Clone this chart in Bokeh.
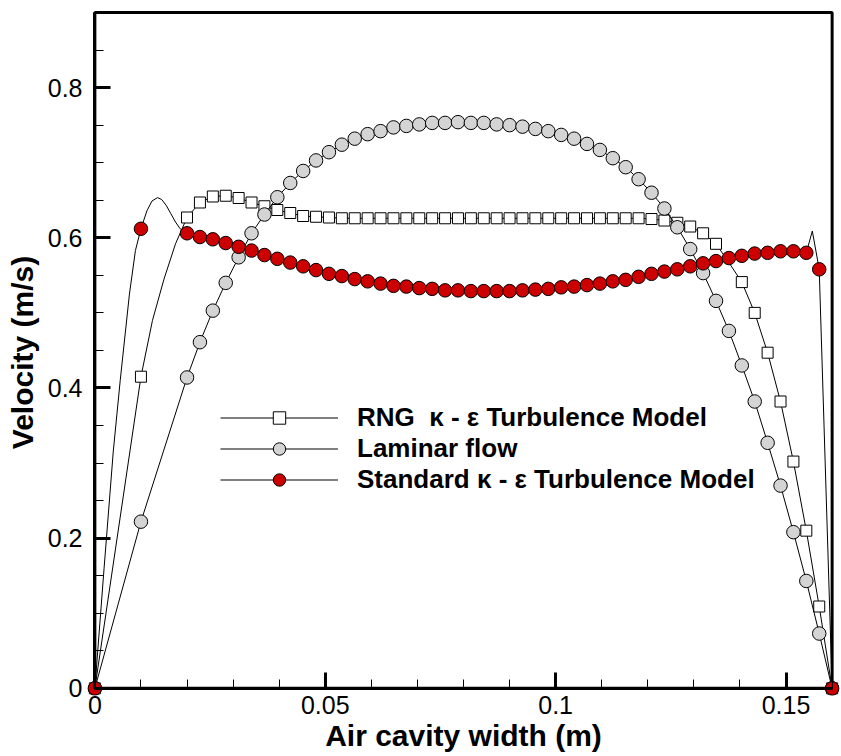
import numpy as np
from bokeh.plotting import figure
from bokeh.models import (Range1d, FixedTicker, NumeralTickFormatter, Legend, LegendItem,
                          BoxAnnotation, LinearAxis)
from bokeh.embed import file_html
from bokeh.resources import INLINE

# Positions across the cavity (m) where the profiles are sampled
x_nodes = [0.0, 0.01,
           0.0200, 0.0228, 0.0256, 0.0284, 0.0312, 0.0340, 0.0368, 0.0396, 0.0424, 0.0452,
           0.0480, 0.0508, 0.0536, 0.0564, 0.0592, 0.0620, 0.0648, 0.0676, 0.0704, 0.0732,
           0.0760, 0.0788, 0.0816, 0.0844, 0.0872, 0.0900, 0.0928, 0.0956, 0.0984, 0.1012,
           0.1040, 0.1068, 0.1096, 0.1124, 0.1152, 0.1180, 0.1208, 0.1236, 0.1264, 0.1292,
           0.1320, 0.1348, 0.1376, 0.1404, 0.1432, 0.1460, 0.1488, 0.1516, 0.1544, 0.1572,
           0.16]

# Velocity (m/s), RNG k-epsilon model
rng_v = [0.0, 0.415,
         0.627, 0.647, 0.655, 0.656, 0.653, 0.647, 0.642, 0.637, 0.633, 0.629,
         0.628, 0.627, 0.626, 0.626, 0.626, 0.626, 0.626, 0.626, 0.626, 0.626,
         0.626, 0.626, 0.626, 0.626, 0.626, 0.626, 0.626, 0.626, 0.626, 0.626,
         0.626, 0.626, 0.626, 0.626, 0.626, 0.626, 0.625, 0.623, 0.620, 0.615,
         0.606, 0.592, 0.567, 0.541, 0.500, 0.447, 0.382, 0.302, 0.210, 0.109,
         0.0]

# Velocity (m/s), laminar flow
lam_v = [0.0, 0.222,
         0.414, 0.461, 0.503, 0.540, 0.574, 0.606, 0.631, 0.654, 0.673, 0.689,
         0.703, 0.714, 0.724, 0.732, 0.738, 0.742, 0.747, 0.749, 0.751, 0.753,
         0.753, 0.754, 0.753, 0.753, 0.751, 0.750, 0.748, 0.745, 0.742, 0.737,
         0.732, 0.725, 0.717, 0.706, 0.694, 0.678, 0.660, 0.639, 0.614, 0.585,
         0.553, 0.516, 0.476, 0.430, 0.382, 0.327, 0.270, 0.208, 0.143, 0.073,
         0.0]

# Velocity (m/s), standard k-epsilon model
std_v = [0.0, 0.612,
         0.606, 0.601, 0.598, 0.593, 0.588, 0.583, 0.577, 0.572, 0.567, 0.562,
         0.557, 0.552, 0.549, 0.545, 0.542, 0.539, 0.536, 0.535, 0.533, 0.532,
         0.530, 0.530, 0.529, 0.529, 0.529, 0.529, 0.530, 0.531, 0.532, 0.534,
         0.535, 0.537, 0.539, 0.542, 0.544, 0.548, 0.552, 0.555, 0.558, 0.562,
         0.566, 0.569, 0.573, 0.576, 0.579, 0.580, 0.582, 0.582, 0.580, 0.558,
         0.0]

# Additional curve points between the symbol nodes (no symbol drawn)
rng_curve_x = [0.0125, 0.0150, 0.0175]
rng_curve_y = [0.490, 0.545, 0.592]
rng_no_symbol_x = [0.1376]

std_curve_x = [0.002, 0.004, 0.0055, 0.0075, 0.0088, 0.0113, 0.0124, 0.0136, 0.0145,
               0.0155, 0.0165, 0.0175, 0.0185, 0.1557]
std_curve_y = [0.160, 0.316, 0.410, 0.525, 0.583, 0.636, 0.649, 0.6535, 0.651,
               0.643, 0.632, 0.621, 0.612, 0.609]

x_ticks = [0, 0.05, 0.1, 0.15]
y_ticks = [0, 0.2, 0.4, 0.6, 0.8]
x_minor = list(np.round(np.arange(0, 0.161, 0.01), 3))
y_minor = list(np.round(np.arange(0, 0.901, 0.05), 3))
x_lim = (0.0, 0.16)
y_lim = (0.0, 0.9)

labels = ["RNG\u00a0\u00a0\u03ba - \u03b5 Turbulence Model",
          "Laminar flow",
          "Standard \u03ba - \u03b5 Turbulence Model"]

FONT = "Liberation Sans"

# margins around the box so the symbols on its edges are drawn whole
XPAD = 0.0016
YPAD_LOW, YPAD_HIGH = 0.0095, 0.004


def merged(xs, ys, cx, cy):
    pts = sorted(zip(list(xs) + list(cx), list(ys) + list(cy)))
    return [q[0] for q in pts], [q[1] for q in pts]


p = figure(width=841, height=756,
           x_range=Range1d(x_lim[0] - XPAD, x_lim[1] + XPAD),
           y_range=Range1d(y_lim[0] - YPAD_LOW, y_lim[1] + YPAD_HIGH),
           output_backend="svg", toolbar_location=None,
           min_border_left=87, min_border_right=2, min_border_top=9, min_border_bottom=61)
p.grid.visible = False
p.background_fill_color = "white"
p.border_fill_color = "white"
p.outline_line_color = None

# plot box
p.add_layout(BoxAnnotation(left=x_lim[0], right=x_lim[1], bottom=y_lim[0], top=y_lim[1],
                           fill_alpha=0, line_color="black", line_alpha=1.0, line_width=3,
                           level="underlay"))

# RNG k-epsilon
rx, ry = merged(x_nodes, rng_v, rng_curve_x, rng_curve_y)
rng_line = p.line(rx, ry, line_color="black", line_width=1)
rng_sym = [(x, v) for x, v in zip(x_nodes, rng_v) if x not in rng_no_symbol_x]
rng_pts = p.scatter([a for a, _ in rng_sym], [b for _, b in rng_sym], marker="square",
                    size=11, fill_color="white", line_color="black", line_width=1)

# Laminar
lam_line = p.line(x_nodes, lam_v, line_color="black", line_width=1)
lam_pts = p.scatter(x_nodes, lam_v, marker="circle", size=13.5, fill_color="#d4d4d4",
                    line_color="black", line_width=1)

# Standard k-epsilon
sx, sy = merged(x_nodes, std_v, std_curve_x, std_curve_y)
std_line = p.line(sx, sy, line_color="black", line_width=1)
std_pts = p.scatter(x_nodes, std_v, marker="circle", size=13.5, fill_color="#cc0000",
                    line_color="black", line_width=1)

# Outer axes: tick labels and titles only
for ax in (p.xaxis[0], p.yaxis[0]):
    ax.axis_line_color = None
    ax.major_tick_line_color = None
    ax.minor_tick_line_color = None
    ax.major_label_text_font = FONT
    ax.major_label_text_font_size = "25px"
    ax.major_label_text_color = "black"
    ax.axis_label_text_font = FONT
    ax.axis_label_text_font_size = "30px"
    ax.axis_label_text_font_style = "bold"
    ax.axis_label_text_color = "black"

p.xaxis.ticker = FixedTicker(ticks=x_ticks)
p.yaxis.ticker = FixedTicker(ticks=y_ticks)
p.xaxis.formatter = NumeralTickFormatter(format="0.[00]")
p.yaxis.formatter = NumeralTickFormatter(format="0.[0]")
p.xaxis.major_label_standoff = -6
p.yaxis.major_label_standoff = -1
p.xaxis.axis_label = "Air cavity width (m)"
p.yaxis.axis_label = "Velocity (m/s)"
p.xaxis.axis_label_standoff = 2
p.yaxis.axis_label_standoff = 6


# Inner axes on the box edges: inward ticks
def tick_axis(loc, bounds, ticks, minor):
    return LinearAxis(fixed_location=loc, bounds=bounds,
                      ticker=FixedTicker(ticks=ticks, minor_ticks=minor),
                      axis_line_width=3, axis_line_color="black",
                      major_tick_in=16, major_tick_out=0, major_tick_line_width=3,
                      minor_tick_in=9, minor_tick_out=0, minor_tick_line_width=1,
                      major_label_text_font_size="0px", major_label_text_alpha=0,
                      major_label_standoff=0)


p.add_layout(tick_axis(y_lim[0], x_lim, x_ticks, x_minor), "below")
p.add_layout(tick_axis(x_lim[0], y_lim, y_ticks, y_minor), "left")

legend = Legend(items=[LegendItem(label=labels[0], renderers=[rng_line, rng_pts]),
                       LegendItem(label=labels[1], renderers=[lam_line, lam_pts]),
                       LegendItem(label=labels[2], renderers=[std_line, std_pts])],
                location=(133, 200), orientation="vertical",
                glyph_width=118, glyph_height=31, label_height=31, spacing=0,
                label_standoff=19, padding=0, margin=0,
                border_line_color=None, background_fill_alpha=0,
                label_text_font=FONT, label_text_font_style="bold",
                label_text_font_size="26px", label_text_color="black")
p.add_layout(legend)

open("out.html", "w").write(file_html(p, INLINE))
